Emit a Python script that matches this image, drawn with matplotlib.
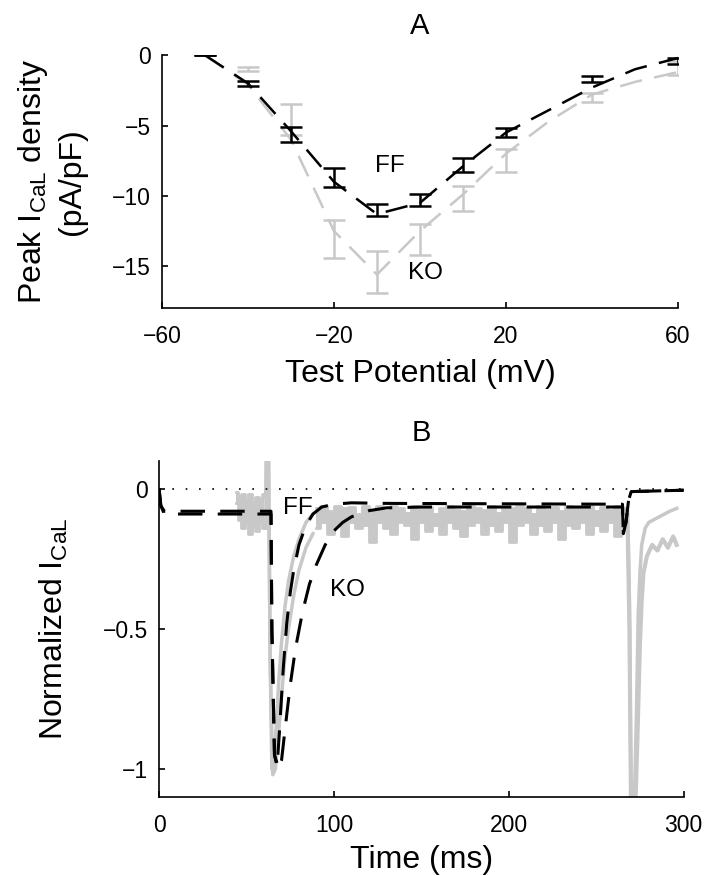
import matplotlib
matplotlib.use("Agg")
import matplotlib.pyplot as plt
import numpy as np

plt.rcParams["font.family"] = ["Liberation Sans", "DejaVu Sans"]
plt.rcParams["mathtext.default"] = "regular"

# ---- panel A: I-V relation ----
# model (dashed lines)
v_model = [-50, -40, -30, -20, -10, 0, 10, 20, 30, 40, 50, 60]
ff_model = [0, -2.0, -5.4, -9.0, -11.3, -10.5, -7.9, -5.5, -3.9, -2.3, -1.0, -0.2]
ko_model = [0, -2.1, -6.0, -12.5, -15.6, -12.5, -9.9, -7.0, -4.7, -2.8, -1.9, -1.2]

# experiments (error bars)
v_data = [-50, -40, -30, -20, -10, 0, 10, 20, 40, 60]
ff_mean = [0, -2.0, -5.65, -8.7, -11.0, -10.3, -7.8, -5.5, -1.7, -0.4]
ff_err = [0, 0.2, 0.55, 0.7, 0.45, 0.4, 0.5, 0.35, 0.2, 0.2]
ko_mean = [0, -1.0, -4.6, -13.05, -15.4, -13.1, -10.2, -7.5, -3.0, -0.9]
ko_err = [0, 0.15, 1.1, 1.35, 1.5, 1.1, 0.9, 0.8, 0.3, 0.5]

# ---- panel B: normalized current traces ----
t_ff = [0, 1, 3, 64, 64.5, 66, 67.5, 69, 71, 73, 75, 77, 80, 84, 88, 93, 100,
        110, 130, 265, 265.5, 267, 268.5, 270, 300]
i_ff = [0, -0.06, -0.08, -0.08, -0.5, -0.95, -0.99, -0.85, -0.64, -0.48, -0.37,
        -0.29, -0.2, -0.13, -0.09, -0.065, -0.055, -0.05, -0.052, -0.055, -0.16,
        -0.12, -0.04, -0.01, -0.005]
t_ko = [0, 1, 3, 64, 64.5, 66, 68.5, 70, 72, 75, 78, 82, 86, 90, 95, 100, 105,
        110, 120, 130, 150, 265, 265.5, 267, 268.5, 270, 300]
i_ko = [0, -0.06, -0.09, -0.09, -0.5, -0.95, -1.0, -0.97, -0.86, -0.7, -0.57,
        -0.44, -0.34, -0.27, -0.2, -0.15, -0.12, -0.1, -0.078, -0.068, -0.065,
        -0.065, -0.16, -0.12, -0.04, -0.01, -0.005]

# recorded traces (gray)
t_pre = [44, 46, 48, 50, 52, 54, 56, 58, 60]
pre_hi = [-0.01, -0.03, -0.02, -0.04, -0.02, -0.05, -0.03, -0.04, -0.02]
pre_lo = [-0.05, -0.11, -0.14, -0.12, -0.16, -0.13, -0.15, -0.12, -0.14]

t_hi_tr = [61, 61.5, 62.5, 63.5, 64.5, 65.5, 67, 68.5, 70, 72, 74, 77, 80, 84, 88]
hi_tr = [-0.03, 0.2, 0.2, -0.6, -1.0, -0.97, -0.85, -0.68, -0.55, -0.42, -0.33,
         -0.24, -0.18, -0.12, -0.09]
t_lo_tr = [61, 61.5, 62.5, 63.5, 65, 66.5, 68, 70, 72, 74, 77, 80, 84, 88]
lo_tr = [-0.14, 0.2, 0.2, -0.6, -1.02, -1.0, -0.9, -0.74, -0.6, -0.5, -0.38,
         -0.29, -0.21, -0.16]

t_plat = np.arange(90, 268, 4)
plat_hi = [-0.07, -0.06, -0.08, -0.06, -0.07, -0.065, -0.09, -0.06, -0.075, -0.06,
           -0.08, -0.06, -0.07, -0.085, -0.06, -0.07, -0.065, -0.09, -0.07, -0.06,
           -0.075, -0.08, -0.06, -0.07, -0.075, -0.06, -0.085, -0.065, -0.07, -0.06,
           -0.07, -0.09, -0.06, -0.075, -0.065, -0.08, -0.06, -0.07, -0.065, -0.06,
           -0.08, -0.065, -0.075, -0.06, -0.07]
plat_lo = [-0.14, -0.12, -0.16, -0.13, -0.17, -0.12, -0.14, -0.13, -0.19, -0.12,
           -0.14, -0.16, -0.12, -0.13, -0.18, -0.12, -0.15, -0.13, -0.16, -0.12,
           -0.14, -0.17, -0.13, -0.12, -0.16, -0.13, -0.15, -0.12, -0.19, -0.13,
           -0.12, -0.16, -0.13, -0.15, -0.12, -0.18, -0.13, -0.14, -0.12, -0.16,
           -0.13, -0.15, -0.12, -0.17, -0.14]

t_hi_end = [266, 268, 269, 270, 271.5, 273, 274, 275, 276, 278, 280, 283, 286, 289, 292, 296]
hi_end = [-0.07, -0.08, -0.4, -1.2, -1.2, -0.8, -0.45, -0.3, -0.2, -0.14, -0.12,
          -0.11, -0.1, -0.09, -0.08, -0.07]
t_lo_end = [266, 268, 269, 270, 272, 273.5, 275, 276, 277, 279, 282, 285, 288, 291, 294, 296]
lo_end = [-0.14, -0.15, -0.5, -1.2, -1.2, -0.9, -0.55, -0.4, -0.3, -0.24, -0.2,
          -0.22, -0.18, -0.21, -0.17, -0.2]

gray = "#c8c8c8"
tick_fs = 16.5
label_fs = 23
txt_fs = 17.5


def style_axes(ax):
    for side in ["top", "right"]:
        ax.spines[side].set_visible(False)
    for side in ["left", "bottom"]:
        ax.spines[side].set_linewidth(1.2)
    ax.tick_params(direction="in", length=4, width=1.2, labelsize=tick_fs, pad=8)
    ax.tick_params(axis="x", pad=12)


fig = plt.figure(figsize=(7.07, 8.76), dpi=100)
ax1 = fig.add_axes([0.229, 0.648, 0.730, 0.289])
ax2 = fig.add_axes([0.225, 0.090, 0.742, 0.384])

# panel A
dash_a = (0, (9, 5))
ax1.plot(v_model, ko_model, color=gray, lw=1.8, ls=dash_a)
ax1.errorbar(v_data, ko_mean, yerr=ko_err, fmt="none", ecolor=gray,
             elinewidth=1.8, capsize=8, capthick=1.8)
ax1.plot(v_model, ff_model, color="k", lw=1.8, ls=dash_a)
ax1.errorbar(v_data, ff_mean, yerr=ff_err, fmt="none", ecolor="k",
             elinewidth=1.8, capsize=8, capthick=1.8)
ax1.text(-7, -7.9, "FF", fontsize=txt_fs, ha="center", va="center")
ax1.text(1.3, -15.5, "KO", fontsize=txt_fs, ha="center", va="center")

ax1.set_xlim(-60, 60)
ax1.set_ylim(-18, 0)
ax1.set_xticks([-60, -20, 20, 60])
ax1.set_yticks([-15, -10, -5, 0])
ax1.set_xlabel("Test Potential (mV)", fontsize=label_fs, labelpad=8)
ax1.set_ylabel("Peak I$_{CaL}$ density\n(pA/pF)", fontsize=label_fs, linespacing=1.3)
ax1.yaxis.set_label_coords(-0.145, 0.5)
ax1.set_title("A", fontsize=21, pad=15)
style_axes(ax1)

# panel B
ax2.fill_between(t_pre, pre_lo, pre_hi, color=gray, lw=0, step="mid")
ax2.fill_between(t_plat, plat_lo, plat_hi, color=gray, lw=0, step="mid")
ax2.plot(t_pre, pre_hi, color=gray, lw=2, drawstyle="steps-mid")
ax2.plot(t_pre, pre_lo, color=gray, lw=2, drawstyle="steps-mid")
ax2.plot(t_plat, plat_hi, color=gray, lw=2, drawstyle="steps-mid")
ax2.plot(t_plat, plat_lo, color=gray, lw=2, drawstyle="steps-mid")
ax2.plot(t_hi_tr, hi_tr, color=gray, lw=2.5)
ax2.plot(t_lo_tr, lo_tr, color=gray, lw=2.5)
ax2.plot(t_hi_end, hi_end, color=gray, lw=2.5)
ax2.plot(t_lo_end, lo_end, color=gray, lw=3)

ax2.axhline(0, color="k", lw=1.2, ls=(0, (1, 7)))
dash_b = (0, (8, 5))
ax2.plot(t_ff, i_ff, color="k", lw=2.2, ls=dash_b)
ax2.plot(t_ko, i_ko, color="k", lw=2.2, ls=dash_b)
ax2.text(79.4, -0.067, "FF", fontsize=txt_fs, ha="center", va="center")
ax2.text(108, -0.36, "KO", fontsize=txt_fs, ha="center", va="center")

ax2.set_xlim(0, 300)
ax2.set_ylim(-1.1, 0.1)
ax2.set_xticks([0, 100, 200, 300])
ax2.set_yticks([-1, -0.5, 0])
ax2.set_yticklabels(["\u22121", "\u22120.5", "0"])
ax2.set_xlabel("Time (ms)", fontsize=label_fs, labelpad=6)
ax2.set_ylabel("Normalized I$_{CaL}$", fontsize=label_fs)
ax2.yaxis.set_label_coords(-0.17, 0.5)
ax2.set_title("B", fontsize=21, pad=14)
style_axes(ax2)

fig.savefig("out.png", dpi=100)
